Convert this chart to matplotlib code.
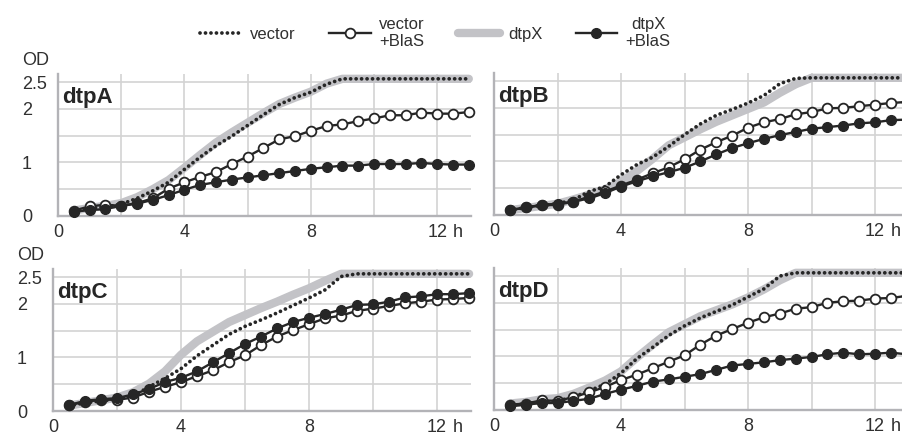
#!/usr/bin/env python3
"""Growth curves (OD vs time) for four dtp mutants, with and without BlaS."""

import matplotlib

matplotlib.use("Agg")
import matplotlib.pyplot as plt
from matplotlib.lines import Line2D

plt.rcParams["font.family"] = ["Liberation Sans", "DejaVu Sans"]
plt.rcParams["font.size"] = 12

HOURS = [0.5, 1.0, 1.5, 2.0, 2.5, 3.0, 3.5, 4.0, 4.5, 5.0, 5.5, 6.0, 6.5,
         7.0, 7.5, 8.0, 8.5, 9.0, 9.5, 10.0, 10.5, 11.0, 11.5, 12.0, 12.5, 13.0]

# dtpA
A_VECTOR = [0.10, 0.14, 0.17, 0.22, 0.33, 0.47, 0.63, 0.87, 1.10, 1.31, 1.49, 1.69, 1.89,
            2.08, 2.21, 2.31, 2.46, 2.56, 2.56, 2.56, 2.56, 2.56, 2.56, 2.56, 2.56, 2.56]
A_VECTOR_BLAS = [0.10, 0.18, 0.21, 0.19, 0.24, 0.33, 0.51, 0.63, 0.73, 0.82, 0.97, 1.11, 1.27,
                 1.43, 1.49, 1.59, 1.68, 1.71, 1.77, 1.82, 1.88, 1.88, 1.93, 1.91, 1.91, 1.94]
A_DTPX = [0.10, 0.15, 0.19, 0.24, 0.35, 0.50, 0.67, 0.90, 1.14, 1.37, 1.56, 1.74, 1.92,
          2.09, 2.21, 2.32, 2.47, 2.56, 2.56, 2.56, 2.56, 2.56, 2.56, 2.56, 2.56, 2.56]
A_DTPX_BLAS = [0.08, 0.11, 0.13, 0.19, 0.23, 0.30, 0.39, 0.49, 0.58, 0.63, 0.68, 0.72, 0.76,
               0.80, 0.84, 0.88, 0.91, 0.94, 0.94, 0.97, 0.97, 0.97, 0.99, 0.97, 0.96, 0.96]

# dtpB
B_VECTOR = [0.09, 0.14, 0.18, 0.21, 0.28, 0.44, 0.53, 0.75, 0.94, 1.08, 1.28, 1.50, 1.70,
            1.86, 1.97, 2.09, 2.23, 2.45, 2.55, 2.56, 2.56, 2.56, 2.56, 2.56, 2.56, 2.56]
B_VECTOR_BLAS = [0.09, 0.14, 0.18, 0.19, 0.25, 0.34, 0.44, 0.55, 0.66, 0.78, 0.89, 1.04, 1.22,
                 1.36, 1.48, 1.63, 1.73, 1.79, 1.88, 1.92, 1.99, 2.00, 2.03, 2.06, 2.09, 2.11]
B_DTPX = [0.09, 0.13, 0.17, 0.21, 0.29, 0.38, 0.48, 0.62, 0.82, 1.05, 1.30, 1.45, 1.60,
          1.74, 1.86, 1.98, 2.10, 2.28, 2.44, 2.56, 2.56, 2.56, 2.56, 2.56, 2.56, 2.56]
B_DTPX_BLAS = [0.09, 0.14, 0.19, 0.21, 0.25, 0.31, 0.41, 0.53, 0.63, 0.72, 0.80, 0.88, 1.00,
               1.13, 1.25, 1.34, 1.42, 1.49, 1.55, 1.61, 1.64, 1.67, 1.71, 1.73, 1.77, 1.78]

# dtpC
C_VECTOR = [0.10, 0.15, 0.19, 0.22, 0.28, 0.45, 0.61, 0.79, 1.03, 1.23, 1.43, 1.58, 1.70,
            1.83, 1.97, 2.11, 2.26, 2.51, 2.56, 2.56, 2.56, 2.56, 2.56, 2.56, 2.56, 2.56]
C_VECTOR_BLAS = [0.11, 0.17, 0.21, 0.21, 0.25, 0.36, 0.45, 0.54, 0.65, 0.76, 0.91, 1.04, 1.23,
                 1.39, 1.51, 1.62, 1.73, 1.78, 1.87, 1.91, 1.96, 2.01, 2.04, 2.08, 2.09, 2.11]
C_DTPX = [0.10, 0.15, 0.20, 0.25, 0.35, 0.51, 0.74, 1.05, 1.30, 1.48, 1.66, 1.79, 1.92,
          2.04, 2.17, 2.29, 2.43, 2.56, 2.56, 2.56, 2.56, 2.56, 2.56, 2.56, 2.56, 2.56]
C_DTPX_BLAS = [0.11, 0.19, 0.22, 0.24, 0.31, 0.41, 0.54, 0.62, 0.74, 0.91, 1.08, 1.25, 1.39,
               1.54, 1.66, 1.74, 1.81, 1.89, 1.98, 1.99, 2.04, 2.12, 2.14, 2.18, 2.18, 2.20]

# dtpD
D_VECTOR = [0.08, 0.12, 0.15, 0.17, 0.24, 0.36, 0.48, 0.69, 0.96, 1.17, 1.39, 1.57, 1.72,
            1.84, 1.96, 2.11, 2.26, 2.50, 2.56, 2.56, 2.56, 2.56, 2.56, 2.56, 2.56, 2.56]
D_VECTOR_BLAS = [0.10, 0.12, 0.18, 0.17, 0.24, 0.33, 0.43, 0.56, 0.66, 0.78, 0.90, 1.02, 1.22,
                 1.39, 1.51, 1.63, 1.73, 1.80, 1.89, 1.92, 2.00, 2.03, 2.04, 2.08, 2.09, 2.13]
D_DTPX = [0.12, 0.15, 0.20, 0.22, 0.30, 0.42, 0.55, 0.72, 0.98, 1.22, 1.45, 1.60, 1.75,
          1.86, 1.97, 2.10, 2.25, 2.42, 2.56, 2.56, 2.56, 2.56, 2.56, 2.56, 2.56, 2.56]
D_DTPX_BLAS = [0.07, 0.10, 0.13, 0.13, 0.17, 0.21, 0.30, 0.38, 0.45, 0.53, 0.57, 0.62, 0.67,
               0.75, 0.83, 0.86, 0.89, 0.93, 0.96, 0.99, 1.04, 1.07, 1.04, 1.05, 1.07, 1.04]

PANEL_NAMES = ["dtpA", "dtpB", "dtpC", "dtpD"]
SERIES_LABELS = ["vector", "vector\n+BlaS", "dtpX", "dtpX\n+BlaS"]
X_TICKS = [0, 2, 4, 6, 8, 10, 12]
X_TICK_LABELS = ["0", "", "4", "", "8", "", "12"]
Y_TICKS = [0, 0.5, 1, 1.5, 2, 2.5]
Y_TICK_LABELS = ["0", "", "1", "", "2", "2.5"]

DARK = "#262626"
GREY = "#c3c3c7"
GRID = "#d3d3d3"
SPINE = "#b3b3b7"
TEXT = "#303030"

FIG_W, FIG_H = 903, 438

# panel boxes in pixels: left, right, y of OD=0, top
PANEL_BOXES = [
    (58, 471, 216, 74),
    (494, 903, 215, 73),
    (53, 471, 411, 269),
    (494, 903, 410, 268),
]
PANEL_XMAX = [13.07, 12.88, 13.06, 12.88]


def style_of(kind):
    if kind == "vector":
        return dict(color=DARK, lw=2.7, linestyle=(0, (0.01, 1.45)),
                    dash_capstyle="round", zorder=3)
    if kind == "vector_blas":
        return dict(color=DARK, lw=1.7, marker="o", ms=7, mfc="white",
                    mec=DARK, mew=1.3, zorder=4)
    if kind == "dtpx":
        return dict(color=GREY, lw=6.0, solid_capstyle="round",
                    solid_joinstyle="round", zorder=2)
    return dict(color=DARK, lw=1.7, marker="o", ms=7, mfc=DARK,
                mec=DARK, mew=1.0, zorder=5)


def main():
    fig = plt.figure(figsize=(FIG_W / 100, FIG_H / 100), dpi=100)

    panels = [
        (A_VECTOR, A_VECTOR_BLAS, A_DTPX, A_DTPX_BLAS),
        (B_VECTOR, B_VECTOR_BLAS, B_DTPX, B_DTPX_BLAS),
        (C_VECTOR, C_VECTOR_BLAS, C_DTPX, C_DTPX_BLAS),
        (D_VECTOR, D_VECTOR_BLAS, D_DTPX, D_DTPX_BLAS),
    ]
    kinds = ["vector", "vector_blas", "dtpx", "dtpx_blas"]

    for i, (series, name) in enumerate(zip(panels, PANEL_NAMES)):
        left, right, y0, top = PANEL_BOXES[i]
        ax = fig.add_axes([left / FIG_W, 1 - y0 / FIG_H,
                           (right - left) / FIG_W, (y0 - top) / FIG_H])
        for values, kind in zip(series, kinds):
            ax.plot(HOURS, values, clip_on=False, **style_of(kind))

        ax.set_xlim(0, PANEL_XMAX[i])
        ax.set_ylim(0, 2.65)
        ax.set_xticks(X_TICKS, X_TICK_LABELS)
        ax.set_yticks(Y_TICKS, Y_TICK_LABELS if i % 2 == 0 else [""] * len(Y_TICKS))
        ax.tick_params(length=0, colors=TEXT, labelsize=13)
        ax.tick_params(axis="x", pad=6)
        ax.tick_params(axis="y", pad=26)
        for lab in ax.get_yticklabels():
            lab.set_horizontalalignment("left")
        ax.grid(True, color=GRID, lw=1.2)
        ax.set_axisbelow(True)
        for side in ("top", "right"):
            ax.spines[side].set_visible(False)
        for side in ("left", "bottom"):
            ax.spines[side].set_color(SPINE)
            ax.spines[side].set_linewidth(1.7)

        ax.annotate("h", xy=(12, 0), xycoords=("data", "axes fraction"),
                    xytext=(11, -6), textcoords="offset points",
                    ha="left", va="top", color=TEXT, fontsize=13)
        ax.annotate(name, xy=(0, 1), xycoords="axes fraction",
                    xytext=(4, -29), textcoords="offset pixels",
                    ha="left", va="baseline", fontsize=16,
                    fontweight="bold", color=DARK)
        if i % 2 == 0:
            fig.text(left / FIG_W - 36 / FIG_W, 1 - (top - 9) / FIG_H, "OD",
                     ha="left", va="baseline", color=TEXT, fontsize=13)

    handles = [Line2D([], [], **style_of(kind)) for kind in kinds]
    leg = fig.legend(handles, SERIES_LABELS, loc="center",
                     bbox_to_anchor=(0.482, 1 - 33 / FIG_H), ncol=4,
                     frameon=False, handlelength=2.5, handletextpad=0.5,
                     columnspacing=2.0, borderaxespad=0, borderpad=0,
                     fontsize=12, labelspacing=0.2)
    for text in leg.get_texts():
        text.set_multialignment("center")
        text.set_color(TEXT)

    fig.savefig("out.png", dpi=100)
    plt.close(fig)


if __name__ == "__main__":
    main()
